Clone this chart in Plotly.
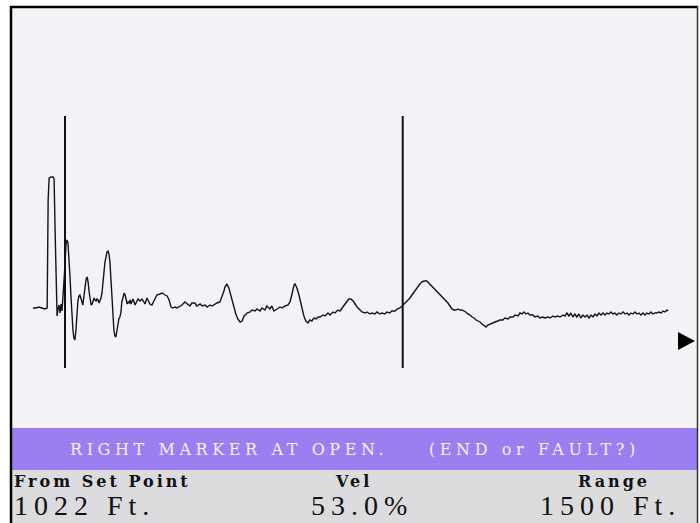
import plotly.graph_objects as go

# TDR trace: distance from the set point (ft) and reflection amplitude (counts)
distance_ft = [
    -97, -88, -79, -70, -61, -54, -51, -48, -42, -36, -33, -30, -27, -24, -21, -18,
    -15, -12, -9, -6, -3, 0, 3, 6, 9, 12, 15, 18, 21, 24, 27, 30, 33, 36, 39, 42,
    45, 48, 51, 54, 57, 61, 64, 67, 70, 73, 76, 79, 82, 85, 88, 91, 94, 97, 100, 103,
    106, 109, 112, 115, 118, 121, 124, 127, 130, 133, 136, 139, 142, 145, 148, 151, 154, 157, 160, 163,
    166, 169, 172, 176, 179, 182, 185, 188, 191, 194, 197, 200, 203, 206, 209, 212, 215, 218, 221, 227,
    233, 239, 242, 248, 257, 263, 272, 278, 287, 294, 303, 309, 315, 321, 327, 333, 339, 348, 354, 363,
    369, 378, 384, 393, 399, 409, 415, 424, 430, 439, 445, 454, 460, 469, 475, 481, 484, 490, 496, 499,
    505, 511, 517, 523, 530, 536, 542, 551, 560, 566, 575, 581, 590, 596, 605, 611, 620, 626, 632, 642,
    651, 657, 666, 675, 681, 687, 693, 696, 702, 708, 711, 717, 723, 729, 735, 741, 747, 753, 760, 766,
    772, 781, 787, 796, 802, 811, 817, 826, 832, 841, 847, 853, 859, 865, 872, 878, 884, 893, 899, 908,
    914, 923, 929, 938, 944, 953, 959, 968, 974, 983, 989, 999, 1005, 1014, 1020, 1023, 1032, 1038, 1044, 1050,
    1056, 1062, 1068, 1074, 1080, 1086, 1095, 1101, 1108, 1114, 1120, 1129, 1135, 1144, 1150, 1159, 1165, 1171, 1177, 1183,
    1189, 1195, 1201, 1207, 1213, 1219, 1226, 1232, 1238, 1244, 1250, 1256, 1262, 1268, 1274, 1280, 1286, 1295, 1301, 1310,
    1316, 1325, 1331, 1341, 1347, 1356, 1362, 1371, 1377, 1383, 1389, 1395, 1401, 1407, 1416, 1422, 1431, 1437, 1446, 1452,
    1462, 1468, 1477, 1483, 1492, 1498, 1507, 1513, 1519, 1525, 1531, 1537, 1543, 1549, 1555, 1561, 1567, 1574, 1580, 1586,
    1592, 1598, 1604, 1610, 1616, 1622, 1628, 1634, 1640, 1646, 1652, 1658, 1664, 1670, 1676, 1682, 1689, 1695, 1701, 1707,
    1713, 1719, 1725, 1731, 1737, 1743, 1749, 1755, 1761, 1767, 1773, 1779, 1785, 1791, 1797, 1804, 1810, 1816, 1822, 1825,
]

amplitude = [
    2, 2, 3, 2, 1, 2, 110, 132, 133, 133, 131, 80, 30, -6, 1, 5,
    -3, 6, -1, 13, 27, 45, 66, 70, 67, 54, 34, 14, -6, -20, -28, -30, -21, -3, 9, 14,
    15, 12, 7, 5, 13, 24, 31, 33, 28, 18, 10, 5, 6, 10, 12, 10, 9, 11, 10, 7,
    9, 12, 17, 25, 38, 48, 54, 58, 59, 56, 48, 30, 10, -8, -20, -26, -27, -21, -13, -9,
    -7, -3, 8, 13, 17, 15, 8, 6, 8, 7, 10, 6, 9, 11, 8, 5, 7, 10, 11, 9,
    11, 8, 6, 12, 6, 5, 12, 15, 16, 17, 15, 14, 10, 3, 2, 3, 2, 4, 5, 8,
    6, 4, 7, 7, 4, 6, 4, 5, 3, 5, 4, 6, 7, 8, 13, 19, 23, 26, 22, 18,
    10, 2, -4, -9, -12, -11, -6, -3, -2, 0, -1, 1, -1, 2, 0, 4, 1, 4, -1, 1,
    3, 2, 4, 5, 8, 16, 25, 26, 22, 15, 10, 1, -6, -11, -13, -10, -11, -8, -9, -7,
    -7, -5, -6, -3, -5, -2, -3, 0, -1, 3, 6, 9, 11, 11, 9, 6, 3, 0, -2, -3,
    -2, -4, -3, -4, -2, -4, -3, -4, -2, -3, -1, -1, 1, 2, 4, 5, 7, 10, 12, 15,
    18, 21, 24, 26, 28, 29, 29, 27, 25, 23, 20, 18, 15, 12, 10, 7, 4, 1, 0, 0,
    1, 0, 0, -1, -2, -4, -5, -7, -8, -10, -11, -12, -14, -16, -17, -15, -14, -13, -12, -11,
    -10, -10, -8, -9, -7, -7, -5, -6, -3, -4, -2, -4, -3, -5, -5, -7, -6, -8, -7, -8,
    -7, -8, -6, -7, -6, -7, -5, -6, -3, -6, -3, -7, -4, -7, -4, -8, -5, -7, -5, -8,
    -5, -7, -4, -6, -3, -5, -3, -5, -3, -4, -2, -4, -3, -5, -3, -4, -2, -4, -3, -5,
    -3, -4, -2, -4, -3, -5, -3, -5, -3, -4, -2, -4, -3, -3, -2, -3, -1, -2, 0, -1,
]

# Cursor positions (ft from set point)
marker_ft = [0, 1022]

status_text = "RIGHT MARKER AT OPEN."
status_hint = "(END or FAULT?)"
readout_labels = ["From Set Point", "Vel", "Range"]
readout_values = ["1022 Ft.", "53.0%", "1500 Ft."]

W, H = 700, 523


def px(x):
    return x / W


def py(y):
    return 1 - y / H


SCREEN = "#f4f2f6"
BAND = "#9b7ff1"
INFO = "#dcdbde"

fig = go.Figure()

fig.add_trace(go.Scatter(
    x=distance_ft, y=amplitude, mode="lines",
    line=dict(color="#141414", width=1.4),
    hoverinfo="skip", showlegend=False,
))

shapes = [
    # instrument screen
    dict(type="rect", xref="paper", yref="paper", x0=px(10), x1=px(698), y0=0, y1=py(6),
         fillcolor=SCREEN, line=dict(width=0), layer="below"),
    dict(type="rect", xref="paper", yref="paper", x0=px(12), x1=px(697), y0=py(470), y1=py(428),
         fillcolor=BAND, line=dict(width=0), layer="below"),
    dict(type="rect", xref="paper", yref="paper", x0=px(12), x1=px(697), y0=0, y1=py(470),
         fillcolor=INFO, line=dict(width=0), layer="below"),
    # bezel edges
    dict(type="line", xref="paper", yref="paper", x0=px(11), x1=px(11), y0=0, y1=py(6),
         line=dict(color="#000000", width=2.5)),
    dict(type="line", xref="paper", yref="paper", x0=px(10), x1=px(698), y0=py(7), y1=py(7),
         line=dict(color="#000000", width=2.5)),
    dict(type="line", xref="paper", yref="paper", x0=px(697.5), x1=px(697.5), y0=0, y1=py(6),
         line=dict(color="#333333", width=1.5)),
    # range arrow
    dict(type="path", xref="paper", yref="paper",
         path=f"M {px(678)},{py(332)} L {px(678)},{py(350)} L {px(695)},{py(341)} Z",
         fillcolor="#000000", line=dict(width=0)),
]

# cursors
for m in marker_ft:
    shapes.append(dict(type="line", xref="x", yref="paper", x0=m, x1=m,
                       y0=py(368), y1=py(116), line=dict(color="#111111", width=2)))

fig.update_layout(shapes=shapes)


def spaced(text, sp):
    return f'<span style="letter-spacing:{sp}px">{text}</span>'


ann = []
ann.append(dict(text=spaced(status_text, 4.6), x=px(68), y=py(449), xanchor="left", yanchor="middle",
                font=dict(family="DejaVu Serif", size=16, color="#f6f2fb")))
ann.append(dict(text=spaced(status_hint, 4.6), x=px(427), y=py(449), xanchor="left", yanchor="middle",
                font=dict(family="DejaVu Serif", size=16, color="#f6f2fb")))

label_pos = [(12, "left"), (353, "center"), (652, "right")]
value_pos = [(12, "left"), (362, "center"), (683, "right")]
for (lx, la), t in zip(label_pos, readout_labels):
    ann.append(dict(text=spaced(f"<b>{t}</b>", 3), x=px(lx), y=py(481), xanchor=la, yanchor="middle",
                    font=dict(family="DejaVu Serif", size=16, color="#111111")))
for (vx, va), t in zip(value_pos, readout_values):
    ann.append(dict(text=spaced(t, 6), x=px(vx), y=py(505.5), xanchor=va, yanchor="middle",
                    font=dict(family="Liberation Serif", size=28, color="#111111")))

for a in ann:
    a.update(xref="paper", yref="paper", showarrow=False)
fig.update_layout(annotations=ann)

ft_per_px = 1022 / 337.7
fig.update_layout(
    width=W, height=H, margin=dict(l=0, r=0, t=0, b=0, pad=0),
    paper_bgcolor="#ffffff", plot_bgcolor="rgba(0,0,0,0)",
    xaxis=dict(range=[-65 * ft_per_px, 635 * ft_per_px], visible=False, fixedrange=True),
    yaxis=dict(range=[-213, 310], visible=False, fixedrange=True),
    showlegend=False,
)

fig.write_html("out.html", config={"displayModeBar": False})
